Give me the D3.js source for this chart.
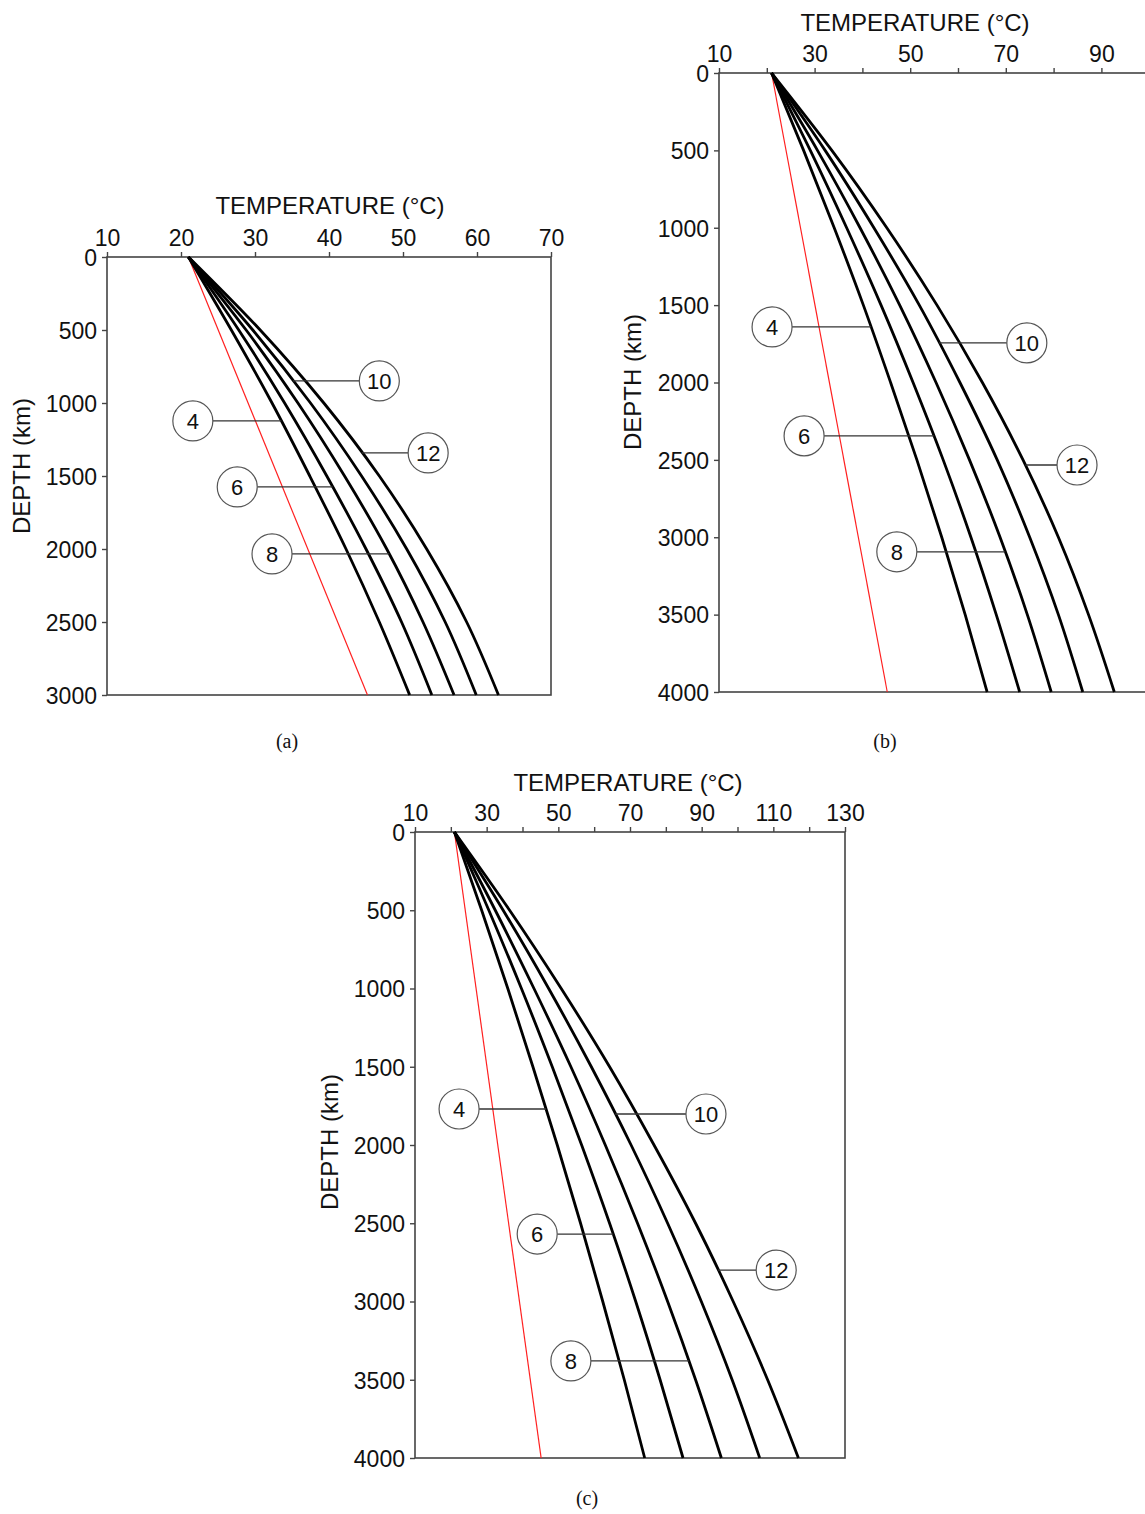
<!DOCTYPE html>
<html><head><meta charset="utf-8">
<script src="https://cdn.jsdelivr.net/npm/d3@7"></script>
<style>
body{margin:0;background:#fff}
svg{display:block}
</style>
</head><body>
<svg id="chart" width="1145" height="1514"></svg>
<script>
// ---------------- DATA ----------------
const seriesKeys = [4, 6, 8, 10, 12];

// Panel (a): depth 0-3000 km
const depthA = [0, 500, 1000, 1500, 2000, 2500, 3000];
const a4  = [21, 26.8, 32.3, 37.4, 42.3, 46.8, 50.9];
const a6  = [21, 27.8, 34.0, 39.7, 45.0, 49.8, 53.9];
const a8  = [21, 28.8, 35.8, 42.1, 47.8, 52.7, 56.9];
const a10 = [21, 29.7, 37.5, 44.4, 50.5, 55.7, 59.9];
const a12 = [21, 30.7, 39.3, 46.8, 53.2, 58.6, 62.9];
const refDepthA = [0, 3000];
const refA = [21, 45.2];

// Panel (b) and (c): depth 0-4000 km
const depthBC = [0, 500, 1000, 1500, 2000, 2500, 3000, 3500, 4000];
const b4  = [21, 27.7, 34.1, 40.2, 45.9, 51.4, 56.6, 61.5, 66.1];
const b6  = [21, 29.1, 36.7, 43.9, 50.6, 56.9, 62.7, 68.0, 72.9];
const b8  = [21, 30.6, 39.5, 47.8, 55.4, 62.4, 68.8, 74.5, 79.5];
const b10 = [21, 32.2, 42.4, 51.9, 60.4, 68.2, 75.0, 81.0, 86.1];
const b12 = [21, 33.6, 45.1, 55.6, 65.1, 73.6, 81.0, 87.3, 92.7];
const refDepthBC = [0, 4000];
const refB = [21, 45.2];

const c4  = [21, 28.6, 35.9, 42.9, 49.7, 56.2, 62.4, 68.4, 74.1];
const c6  = [21, 30.6, 39.7, 48.3, 56.5, 64.3, 71.6, 78.4, 84.8];
const c8  = [21, 32.4, 43.2, 53.5, 63.1, 72.1, 80.5, 88.3, 95.5];
const c10 = [21, 34.6, 47.3, 59.2, 70.3, 80.5, 89.9, 98.5, 106.2];
const c12 = [21, 36.4, 50.8, 64.3, 76.7, 88.3, 98.8, 108.4, 117.0];
const refC = [21, 45.2];

// Tick labels
const xTickLabelsA = [10, 20, 30, 40, 50, 60, 70];
const xTickLabelsB = [10, 30, 50, 70, 90];
const xTickLabelsC = [10, 30, 50, 70, 90, 110, 130];
const yTicksA = [0, 500, 1000, 1500, 2000, 2500, 3000];
const yTicksBC = [0, 500, 1000, 1500, 2000, 2500, 3000, 3500, 4000];

// Curve label annotations (temperature, depth of the circle)
const labelsA = [[10, 46.8, 849], [4, 21.6, 1123], [12, 53.4, 1342], [6, 27.6, 1575], [8, 32.3, 2034]];
const labelsB = [[4, 21.1, 1641], [10, 74.4, 1744], [6, 27.8, 2345], [12, 84.9, 2533], [8, 47.2, 3094]];
const labelsC = [[4, 22.3, 1770], [10, 91.2, 1802], [6, 44.1, 2569], [12, 110.8, 2799], [8, 53.5, 3380]];

// ---------------- DRAW ----------------
const svg = d3.select("#chart");
const SANS = "'Liberation Sans', Arial, sans-serif";

function panel(cfg) {
  const g = svg.append("g");
  const x = d3.scaleLinear().domain([10, cfg.xmax]).range([cfg.x0, cfg.x1]);
  const y = d3.scaleLinear().domain([0, cfg.zmax]).range([cfg.y0, cfg.y1]);

  // frame
  g.append("rect").attr("x", cfg.x0).attr("y", cfg.y0)
    .attr("width", cfg.x1 - cfg.x0).attr("height", cfg.y1 - cfg.y0)
    .attr("fill", "none").attr("stroke", "#444").attr("stroke-width", 1.6);

  // top axis
  const xt = d3.axisTop(x)
    .tickValues(d3.range(10, cfg.xmax + 1, 10).filter(v => x(v) <= 1140))
    .tickFormat(d => cfg.xLabels.includes(d) ? String(d) : "")
    .tickSize(5).tickSizeOuter(0).tickPadding(6);
  const gx = g.append("g").attr("transform", `translate(0,${cfg.y0})`).call(xt);
  gx.select(".domain").remove();
  gx.selectAll("line").attr("stroke", "#444").attr("stroke-width", 1.4);
  gx.selectAll("text").style("font-family", SANS).style("font-size", "23px").attr("fill", "#111");

  // left axis
  const yl = d3.axisLeft(y).tickValues(cfg.yTicks).tickFormat(d3.format("d"))
    .tickSize(5).tickSizeOuter(0).tickPadding(5);
  const gy = g.append("g").attr("transform", `translate(${cfg.x0},0)`).call(yl);
  gy.select(".domain").remove();
  gy.selectAll("line").attr("stroke", "#444").attr("stroke-width", 1.4);
  gy.selectAll("text").style("font-family", SANS).style("font-size", "23px").attr("fill", "#111")
    .attr("dy", "0.36em");

  // titles
  g.append("text").attr("x", cfg.titleX).attr("y", cfg.titleY).attr("text-anchor", "middle")
    .style("font-family", SANS).style("font-size", "24px").attr("fill", "#111")
    .text("TEMPERATURE (°C)");
  g.append("text").attr("transform", `translate(${cfg.yTitleX},${cfg.yTitleY}) rotate(-90)`)
    .attr("text-anchor", "middle")
    .style("font-family", SANS).style("font-size", "24px").attr("fill", "#111")
    .text("DEPTH (km)");

  // reference (red) line
  const line = d3.line().x(d => x(d[0])).y(d => y(d[1])).curve(d3.curveMonotoneY);
  g.append("path").datum(cfg.refDepth.map((z, i) => [cfg.ref[i], z]))
    .attr("d", d3.line().x(d => x(d[0])).y(d => y(d[1])))
    .attr("fill", "none").attr("stroke", "#ff2020").attr("stroke-width", 1.2);

  // black curves
  seriesKeys.forEach((k, si) => {
    const vals = cfg.series[si];
    g.append("path").datum(cfg.depths.map((z, i) => [vals[i], z]))
      .attr("d", line).attr("fill", "none").attr("stroke", "#000").attr("stroke-width", 2.8);
  });

  // labels
  cfg.labels.forEach(([k, t, z]) => {
    const vals = cfg.series[seriesKeys.indexOf(k)];
    const tc = d3.scaleLinear().domain(cfg.depths).range(vals)(z);
    const cx = x(t), cy = y(z), r = 20;
    const xc = x(tc);
    const xa = cx < xc ? cx + r : cx - r;
    g.append("line").attr("x1", xa).attr("x2", xc).attr("y1", cy).attr("y2", cy)
      .attr("stroke", "#333").attr("stroke-width", 1.3);
    g.append("circle").attr("cx", cx).attr("cy", cy).attr("r", r)
      .attr("fill", "#fff").attr("stroke", "#555").attr("stroke-width", 1.2);
    g.append("text").attr("x", cx).attr("y", cy).attr("dy", "0.36em").attr("text-anchor", "middle")
      .style("font-family", SANS).style("font-size", "22px").attr("fill", "#111").text(k);
  });

  // caption
  svg.append("text").attr("x", cfg.capX).attr("y", cfg.capY).attr("text-anchor", "middle")
    .style("font-family", "'Liberation Serif', 'Times New Roman', serif").style("font-size", "20px")
    .attr("fill", "#111").text(cfg.caption);
}

panel({
  x0: 107, x1: 551, y0: 257, y1: 695, xmax: 70, zmax: 3000,
  xLabels: xTickLabelsA, yTicks: yTicksA,
  depths: depthA, series: [a4, a6, a8, a10, a12], refDepth: refDepthA, ref: refA,
  labels: labelsA,
  titleX: 330, titleY: 214, yTitleX: 30, yTitleY: 466,
  capX: 287, capY: 748, caption: "(a)"
});
panel({
  x0: 719, x1: 1197, y0: 73, y1: 692, xmax: 110, zmax: 4000,
  xLabels: xTickLabelsB, yTicks: yTicksBC,
  depths: depthBC, series: [b4, b6, b8, b10, b12], refDepth: refDepthBC, ref: refB,
  labels: labelsB,
  titleX: 915, titleY: 31, yTitleX: 641, yTitleY: 382,
  capX: 885, capY: 748, caption: "(b)"
});
panel({
  x0: 415, x1: 845, y0: 832, y1: 1458, xmax: 130, zmax: 4000,
  xLabels: xTickLabelsC, yTicks: yTicksBC,
  depths: depthBC, series: [c4, c6, c8, c10, c12], refDepth: refDepthBC, ref: refC,
  labels: labelsC,
  titleX: 628, titleY: 791, yTitleX: 338, yTitleY: 1142,
  capX: 587, capY: 1505, caption: "(c)"
});
</script>
</body></html>
